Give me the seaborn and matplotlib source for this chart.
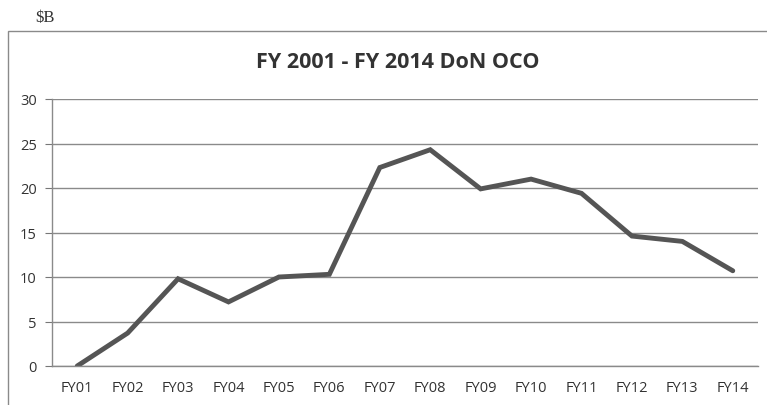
import matplotlib
matplotlib.use("Agg")
import matplotlib.pyplot as plt
import pandas as pd
import seaborn as sns
from matplotlib.patches import Rectangle

years = ["FY01", "FY02", "FY03", "FY04", "FY05", "FY06", "FY07",
         "FY08", "FY09", "FY10", "FY11", "FY12", "FY13", "FY14"]
oco = [0.0, 3.7, 9.8, 7.2, 10.0, 10.3, 22.3,
       24.3, 19.9, 21.0, 19.4, 14.6, 14.0, 10.7]
y_ticks = [0, 5, 10, 15, 20, 25, 30]

df = pd.DataFrame({"year": years, "oco": oco})
df["pos"] = range(len(years))

sns.set_style("white")
plt.rcParams["font.family"] = ["Open Sans", "DejaVu Sans"]

fig = plt.figure(figsize=(7.67, 4.06), dpi=100)
ax = fig.add_axes([52 / 767, 1 - 367 / 406, 706 / 767, 267 / 406])

# outer chart frame
fig.patches.append(Rectangle((8 / 767, -0.05), 1.0, 1 - 32 / 406 + 0.05,
                             transform=fig.transFigure, fill=False,
                             edgecolor="#8a8a8a", linewidth=1.0))

sns.lineplot(data=df, x="pos", y="oco", ax=ax, color="#555555",
             linewidth=3.5, solid_joinstyle="miter")

ax.set_xlim(-0.5, len(years) - 0.5)
ax.set_ylim(0, 30)
ax.set_yticks(y_ticks)
ax.set_xticks(df["pos"])
ax.set_xticklabels(years)
ax.set_xticks([i - 0.5 for i in range(len(years) + 1)], minor=True)
ax.tick_params(axis="x", which="major", length=0, pad=10,
               labelsize=10.5, colors="#333333")
ax.tick_params(axis="x", which="minor", length=5, width=0.8,
               color="#777777", direction="out")
ax.tick_params(axis="y", length=5, width=0.8, color="#777777",
               labelsize=10.5, labelcolor="#333333", pad=6, left=True)
ax.yaxis.grid(True, color="#8a8a8a", linewidth=1.0)
ax.set_axisbelow(True)

for side in ["top", "right"]:
    ax.spines[side].set_visible(False)
for side in ["left", "bottom"]:
    ax.spines[side].set_color("#8a8a8a")
    ax.spines[side].set_linewidth(1.0)

ax.set_xlabel("")
ax.set_ylabel("")

fig.text(398 / 767, 1 - 62 / 406, "FY 2001 - FY 2014 DoN OCO",
         ha="center", va="center", fontsize=15.5, fontweight="bold",
         color="#333333")
fig.text(35 / 767, 1 - 18 / 406, "$B", ha="left", va="center",
         fontsize=12, family=["Liberation Serif", "DejaVu Serif"],
         color="#333333")

fig.savefig("out.png", dpi=100, facecolor="white")
